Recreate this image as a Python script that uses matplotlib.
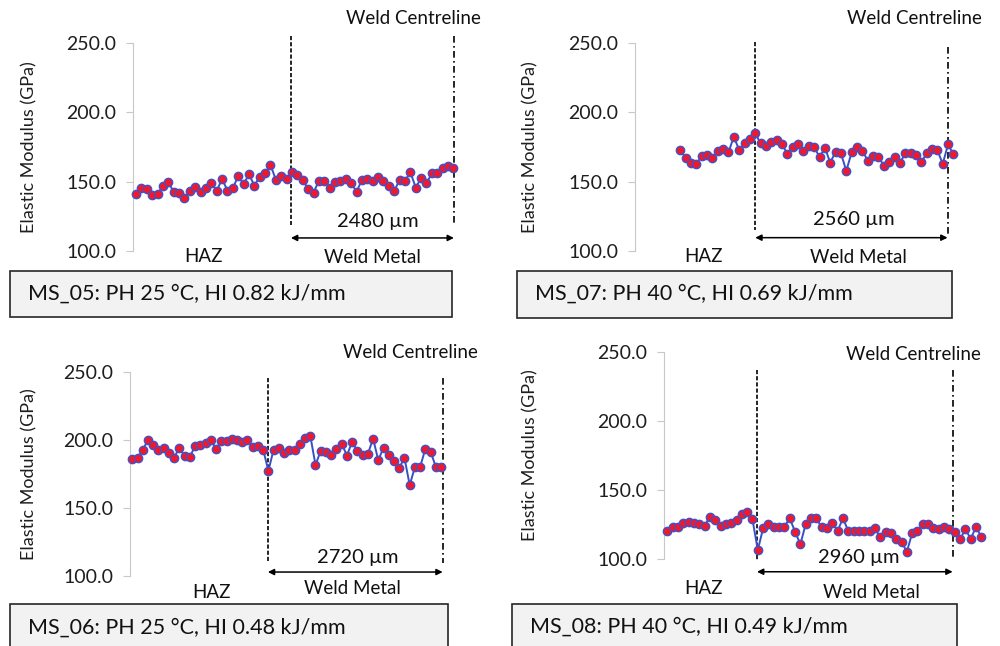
import matplotlib
matplotlib.use("Agg")
import matplotlib.pyplot as plt
from matplotlib.patches import Rectangle
import numpy as np

plt.rcParams['font.family'] = ['Lato', 'DejaVu Sans']

# elastic modulus along the indent line (GPa), HAZ -> weld centreline
ms05 = [141.1, 145.2, 144.5, 140.4, 140.9, 146.9, 150.0, 142.3, 142.1, 138.0,
        143.3, 146.4, 142.8, 145.7, 149.3, 143.3, 151.9, 143.5, 145.2, 154.1,
        148.1, 155.3, 147.1, 153.6, 156.0, 162.0, 151.2, 154.1, 151.9, 157.2,
        154.8, 151.2, 144.7, 142.1, 150.5, 150.5, 145.7, 149.5, 150.5, 151.9,
        148.8, 142.8, 151.2, 151.7, 150.5, 153.6, 150.5, 146.9, 143.3, 151.2,
        150.5, 156.7, 145.7, 152.4, 148.8, 156.0, 156.0, 160.0, 161.2, 159.6]
ms07 = [172.7, 167.2, 163.2, 162.7, 168.4, 168.9, 167.2, 172.2, 173.2, 171.1,
        182.3, 172.7, 177.5, 180.4, 184.7, 177.5, 175.8, 178.7, 179.9, 177.0,
        169.9, 175.1, 176.8, 172.2, 175.6, 175.1, 167.5, 174.4, 163.6, 171.5,
        170.3, 157.7, 171.1, 174.6, 172.2, 165.1, 168.4, 167.9, 161.5, 164.4,
        167.5, 163.2, 170.3, 170.3, 169.1, 163.9, 170.3, 173.2, 172.7, 162.7,
        176.8, 169.6]
ms06 = [186.0, 186.5, 192.9, 199.8, 196.1, 192.9, 193.9, 190.0, 187.0, 194.4,
        188.0, 187.5, 195.6, 196.1, 198.0, 199.8, 193.6, 199.0, 199.3, 201.0,
        199.8, 198.5, 199.8, 194.9, 195.6, 192.9, 177.2, 192.9, 193.9, 190.0,
        192.9, 192.4, 197.1, 201.7, 203.2, 181.6, 191.9, 190.9, 189.0, 193.6,
        197.3, 188.5, 198.5, 191.9, 189.0, 189.5, 201.0, 185.0, 194.4, 188.7,
        184.1, 179.4, 186.8, 166.7, 180.1, 180.1, 193.6, 191.2, 180.1, 180.1]
ms08 = [120.7, 123.6, 123.1, 126.4, 127.2, 126.0, 125.5, 124.3, 130.8, 128.4,
        124.3, 125.2, 126.4, 128.4, 132.7, 134.4, 128.8, 106.7, 122.4, 125.2,
        123.6, 123.6, 123.6, 129.6, 120.0, 110.8, 125.5, 130.0, 129.6, 123.1,
        122.4, 126.0, 120.7, 129.6, 120.4, 120.4, 120.4, 120.4, 120.4, 122.4,
        115.9, 120.0, 119.2, 114.7, 112.7, 105.5, 118.8, 120.4, 125.2, 125.2,
        122.4, 121.6, 123.6, 121.9, 120.0, 114.4, 121.9, 114.7, 123.6, 115.9]

series = [ms05, ms07, ms06, ms08]
captions = ["MS_05: PH 25 °C, HI 0.82 kJ/mm", "MS_07: PH 40 °C, HI 0.69 kJ/mm",
            "MS_06: PH 25 °C, HI 0.48 kJ/mm", "MS_08: PH 40 °C, HI 0.49 kJ/mm"]
weld_widths = ["2480 µm", "2560 µm", "2720 µm", "2960 µm"]
# fusion line and weld centreline, in indent number
fusion_at = [28.8, 14.0, 25.9, 16.85]
centre_at = [59.1, 49.9, 59.3, 53.6]
yticks = [100, 150, 200, 250]

W, H = 1000, 646

# layout in pixels: axes box (left, right, top, bottom), x limits, ...
layout = [
    dict(box=(133, 462, 42.7, 251), xlim=(-0.56, 60.6), ylab=37,
         vline=(254.8, 118.7), cline=(254.8, 118.7), arrow=109.4,
         centre=(413, 19), width=(378, 222), haz=(203, 256), wm=(372, 258),
         cap=(10, 452, 271, 317), captxt=(28, 294)),
    dict(box=(635, 962, 42.7, 251), xlim=(-8.45, 52.6), ylab=538,
         vline=(250.7, 115.1), cline=(247, 110.3), arrow=109.6,
         centre=(914, 19), width=(854, 220), haz=(704, 256), wm=(858, 258),
         cap=(517, 952, 271, 318), captxt=(535, 294)),
    dict(box=(130, 450, 372, 575.7), xlim=(-0.44, 60.7), ylab=37,
         vline=(245.4, 109.1), cline=(245.4, 109.1), arrow=102.7,
         centre=(410, 353), width=(358, 557), haz=(212, 592), wm=(352, 589),
         cap=(10, 448, 604, 652), captxt=(28, 628)),
    dict(box=(664, 1000, 351.7, 559.3), xlim=(-0.62, 62.5), ylab=538,
         vline=(236.8, 99.5), cline=(236.8, 99.5), arrow=91.0,
         centre=(913, 354), width=(859, 558), haz=(704, 589), wm=(871, 592),
         cap=(512, 957, 604, 652), captxt=(530, 627)),
]

fig = plt.figure(figsize=(W / 100, H / 100), dpi=100)


def fpos(px, py):
    return px / W, 1 - py / H


for vals, cap, wtxt, xf, xc, lay in zip(series, captions, weld_widths,
                                         fusion_at, centre_at, layout):
    l, r, t, b = lay['box']
    ax = fig.add_axes([l / W, 1 - b / H, (r - l) / W, (b - t) / H])
    x = np.arange(len(vals))
    ax.plot(x, vals, color='#3b4fc4', lw=1.4, marker='o', ms=6,
            mfc='#f2182b', mec='#4052c8', mew=1.0, zorder=3, clip_on=False)
    ax.set_xlim(*lay['xlim'])
    ax.set_ylim(100, 250)
    ax.set_yticks(yticks)
    ax.set_yticklabels([f"{v:.1f}" for v in yticks])
    ax.set_xticks([])
    for s in ['top', 'right', 'bottom']:
        ax.spines[s].set_visible(False)
    ax.spines['left'].set_color('#c8c8c8')
    ax.tick_params(axis='y', length=5, color='#c8c8c8', pad=7,
                   labelsize=14, labelcolor='#1e1e1e')
    ax.set_ylabel("Elastic Modulus (GPa)", fontsize=13, color='#1e1e1e')
    ax.yaxis.set_label_coords((lay['ylab'] - l) / (r - l), 0.5)
    ax.patch.set_alpha(0)

    # fusion line and weld centreline
    ax.plot([xf, xf], lay['vline'], color='black', lw=1.2,
            ls=(0, (2.5, 1.2)), clip_on=False, zorder=2)
    ax.plot([xc, xc], lay['cline'], color='black', lw=1.2,
            ls=(0, (4, 2, 1, 2)), clip_on=False, zorder=2)
    ax.annotate("", xy=(xc, lay['arrow']), xytext=(xf, lay['arrow']),
                arrowprops=dict(arrowstyle='<|-|>', color='black', lw=1.1,
                                mutation_scale=9, shrinkA=0, shrinkB=0),
                annotation_clip=False)

    fig.text(*fpos(*lay['centre']), "Weld Centreline", ha='center',
             va='center', fontsize=13.5, color='#111111')
    fig.text(*fpos(*lay['width']), wtxt, ha='center', va='center',
             fontsize=14.5, color='#111111')
    fig.text(*fpos(*lay['haz']), "HAZ", ha='center', va='center',
             fontsize=13.5, color='#111111')
    fig.text(*fpos(*lay['wm']), "Weld Metal", ha='center', va='center',
             fontsize=13.5, color='#111111')

    cl, cr, ct, cb = lay['cap']
    fig.patches.append(Rectangle((cl / W, 1 - cb / H), (cr - cl) / W,
                                 (cb - ct) / H, transform=fig.transFigure,
                                 facecolor='#f2f2f2', edgecolor='#262626',
                                 lw=1.2, zorder=0))
    fig.text(*fpos(*lay['captxt']), cap, ha='left', va='center',
             fontsize=15.5, color='#111111')

fig.savefig("out.png", dpi=100)
